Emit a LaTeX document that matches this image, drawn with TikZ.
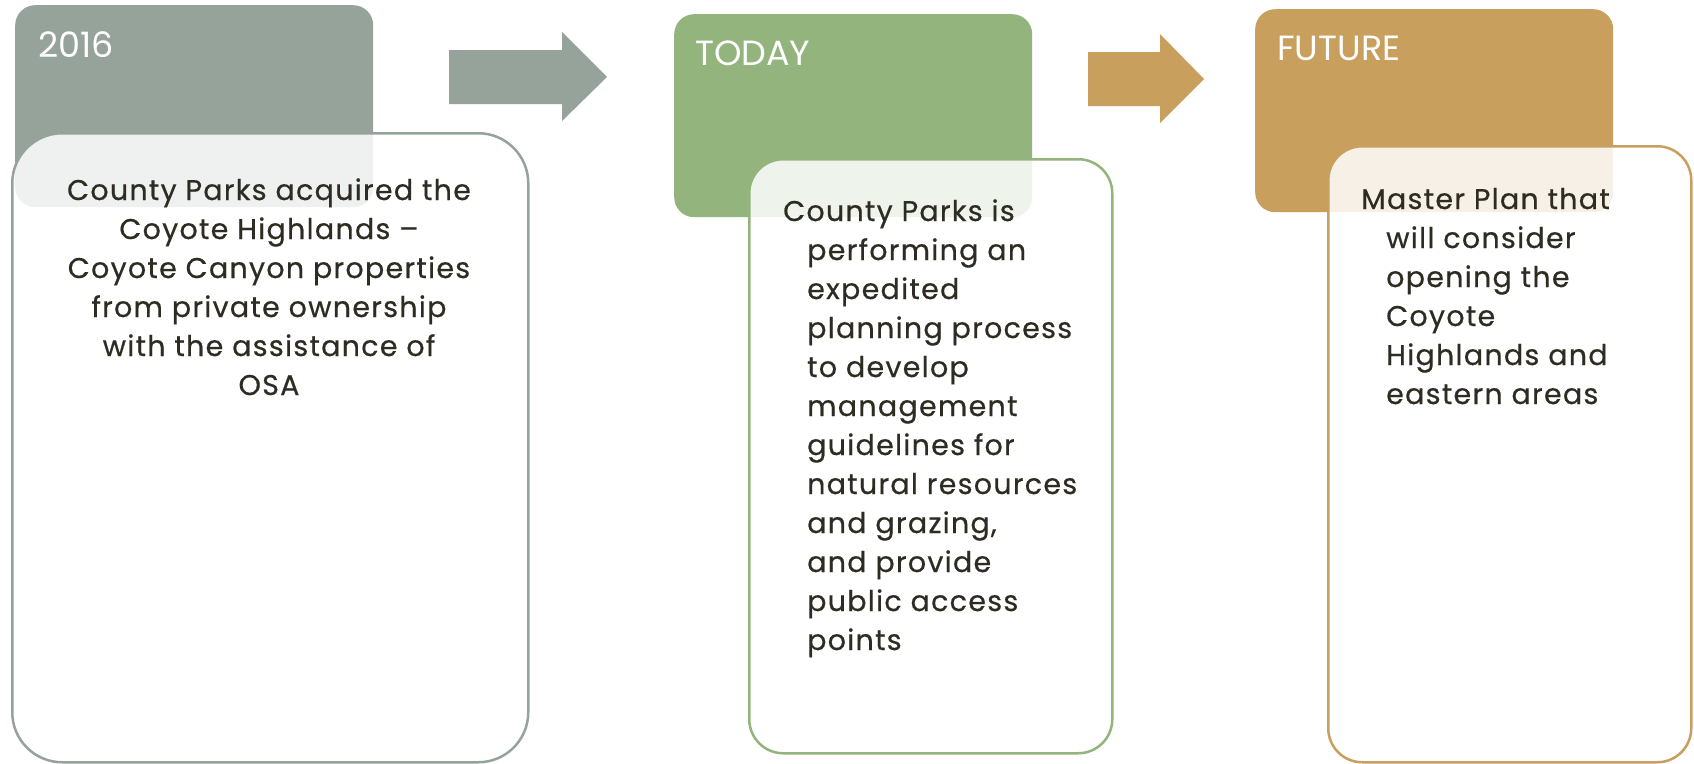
\documentclass[tikz,border=0pt]{standalone}
\usepackage{fontspec}
\setmainfont{Poppins}
\newfontfamily\bodyfont{Poppins}[LetterSpace=4.5, FakeBold=0.5]
\definecolor{cgrey}{HTML}{95A39B}
\definecolor{cgreen}{HTML}{93B47D}
\definecolor{cgold}{HTML}{C89F5D}
\definecolor{ctext}{HTML}{2E2C22}
\begin{document}
\begin{tikzpicture}[x=1pt,y=-1pt,
  header/.style={rectangle, fill=#1, rounded corners=20pt, inner sep=0pt, anchor=north west},
  card/.style={rectangle, draw=#1, line width=2.5pt, fill=white, fill opacity=0.85, inner sep=0pt, anchor=north west},
  title/.style={text=white, font=\fontsize{35}{42}\selectfont, inner sep=0pt, anchor=base west},
  body/.style={text=ctext, font=\bodyfont\fontsize{28.5}{39}\selectfont, inner sep=0pt}
]
\fill[white] (0,0) rectangle (1694,763);
\useasboundingbox (0,0) rectangle (1694,763);

% headers
\node[header=cgrey,  minimum width=358pt, minimum height=202pt] (h1) at (15,5) {};
\node[header=cgreen, minimum width=358pt, minimum height=203pt] (h2) at (674,14) {};
\node[header=cgold,  minimum width=358pt, minimum height=203pt] (h3) at (1255,9) {};

\node[title] (t1) at (38,57) {2016};
\node[title] (t2) at (695,65) {TODAY};
\node[title] (t3) at (1277,60) {FUTURE};

% block arrows
\fill[cgrey] (449,50) -- (562,50) -- (562,32) -- (607,77) -- (562,121) -- (562,104) -- (449,104) -- cycle;
\fill[cgold] (1088,52) -- (1160,52) -- (1160,34) -- (1204,79) -- (1160,123) -- (1160,106) -- (1088,106) -- cycle;

% cards
\node[card=cgrey,  rounded corners=50pt, minimum width=516pt, minimum height=629pt] (w1) at (11,132) {};
\node[card=cgreen, rounded corners=34pt, minimum width=363pt, minimum height=594pt] (w2) at (748,158) {};
\node[card=cgold,  rounded corners=34pt, minimum width=363pt, minimum height=616pt] (w3) at (1327,145) {};

% body texts
\node[body, anchor=base] (b1) at (269,200) {\parbox[t]{500pt}{\centering
County Parks acquired the\\
Coyote Highlands –\\
Coyote Canyon properties\\
from private ownership\\
with the assistance of\\
OSA}};

\node[body, anchor=base west] (b2) at (807,221) {\parbox[t]{300pt}{\raggedright
\hspace*{-24pt}County Parks is\\
performing an\\
expedited\\
planning process\\
to develop\\
management\\
guidelines for\\
natural resources\\
and grazing,\\
and provide\\
public access\\
points}};

\node[body, anchor=base west] (b3) at (1386,209) {\parbox[t]{300pt}{\raggedright
\hspace*{-25pt}Master Plan that\\
will consider\\
opening the\\
Coyote\\
Highlands and\\
eastern areas}};
\end{tikzpicture}
\end{document}
